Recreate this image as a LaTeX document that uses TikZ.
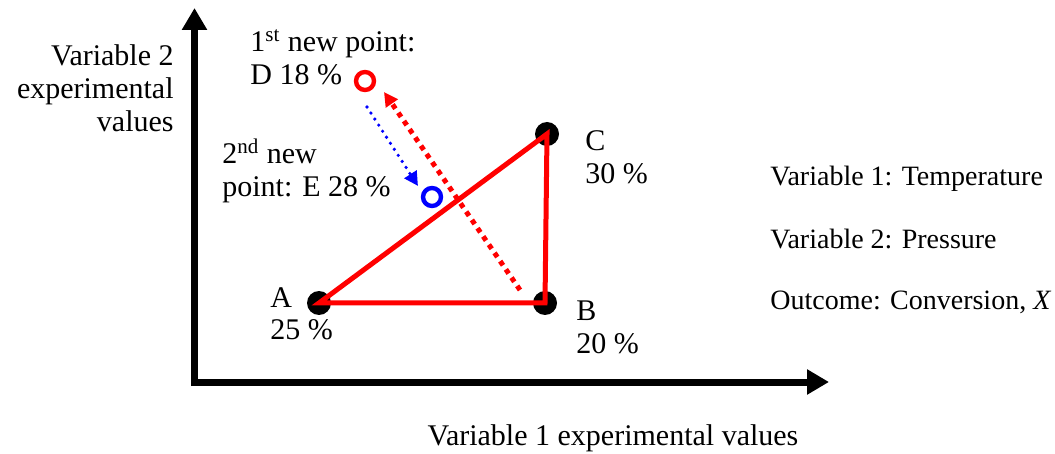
\documentclass[tikz,border=0pt]{standalone}
\usepackage{fontspec}
\setmainfont{Liberation Serif}
\usetikzlibrary{arrows.meta}
\definecolor{ptred}{RGB}{255,0,0}
\definecolor{ptblue}{RGB}{0,0,255}
\tikzset{
  vertex/.style={circle,fill=black,inner sep=0pt,minimum size=12pt},
  newpt/.style={circle,draw,line width=2.2pt,inner sep=0pt,minimum size=9pt},
  lbl/.style={inner sep=0pt,anchor=base west,align=left},
  legend/.style={lbl,font=\fontsize{14}{16.5}\selectfont},
}

\begin{document}
\begin{tikzpicture}[x=.5pt,y=-.5pt,>={Triangle[length=11pt,width=12pt]},font=\fontsize{15}{16.5}\selectfont]
\useasboundingbox (0,0) rectangle (1055,454);
% axes
\draw[->,line width=3.5pt] (194.5,386)--(194.5,8);
\draw[->,line width=3.5pt] (191,382)--(829,382);
\node[inner sep=0pt,anchor=base east,align=right] (ylab) at (174,132) {Variable 2\\experimental\\values};
\node[inner sep=0pt,anchor=base] (xlab) at (613,445) {Variable 1 experimental values};
% simplex points
\node[vertex] (A) at (319,303) {};
\node[vertex] (B) at (545,303) {};
\node[vertex] (C) at (547,134) {};
\node[newpt,ptred] (D) at (365,81) {};
\node[newpt,ptblue] (E) at (432,197) {};
\draw[ptred,line width=2.5pt] (A.center)--(B.center)--(C.center)--cycle;
% reflection and contraction
\coordinate (r0) at (520,290);
\coordinate (r1) at (384,92);
\coordinate (b0) at (367,107);
\coordinate (b1) at (418,186);
\draw[ptred,line width=2.5pt,dash pattern=on 2.5pt off 2.5pt,-{Triangle[length=7pt,width=7pt]}] (r0)--(r1);
\draw[ptblue,line width=1.8pt,line cap=round,dash pattern=on 0pt off 3.6pt,-{Triangle[length=7pt,width=7pt]}] (b0)--(b1);
% labels
\node[lbl] (labD) at (250,85) {1\textsuperscript{st} new point:\\D 18 \%};
\node[lbl] (labE) at (222,197) {2\textsuperscript{nd} new\\point: E 28 \%};
\node[lbl] (labA) at (270,340) {A\\25 \%};
\node[lbl] (labB) at (576,353) {B\\20 \%};
\node[lbl] (labC) at (585,184) {C\\30 \%};
\node[legend] (leg1) at (770,186) {Variable 1: Temperature};
\node[legend] (leg2) at (770,249) {Variable 2: Pressure};
\node[legend] (leg3) at (770,310) {Outcome: Conversion, \textit{X}};
\end{tikzpicture}
\end{document}
